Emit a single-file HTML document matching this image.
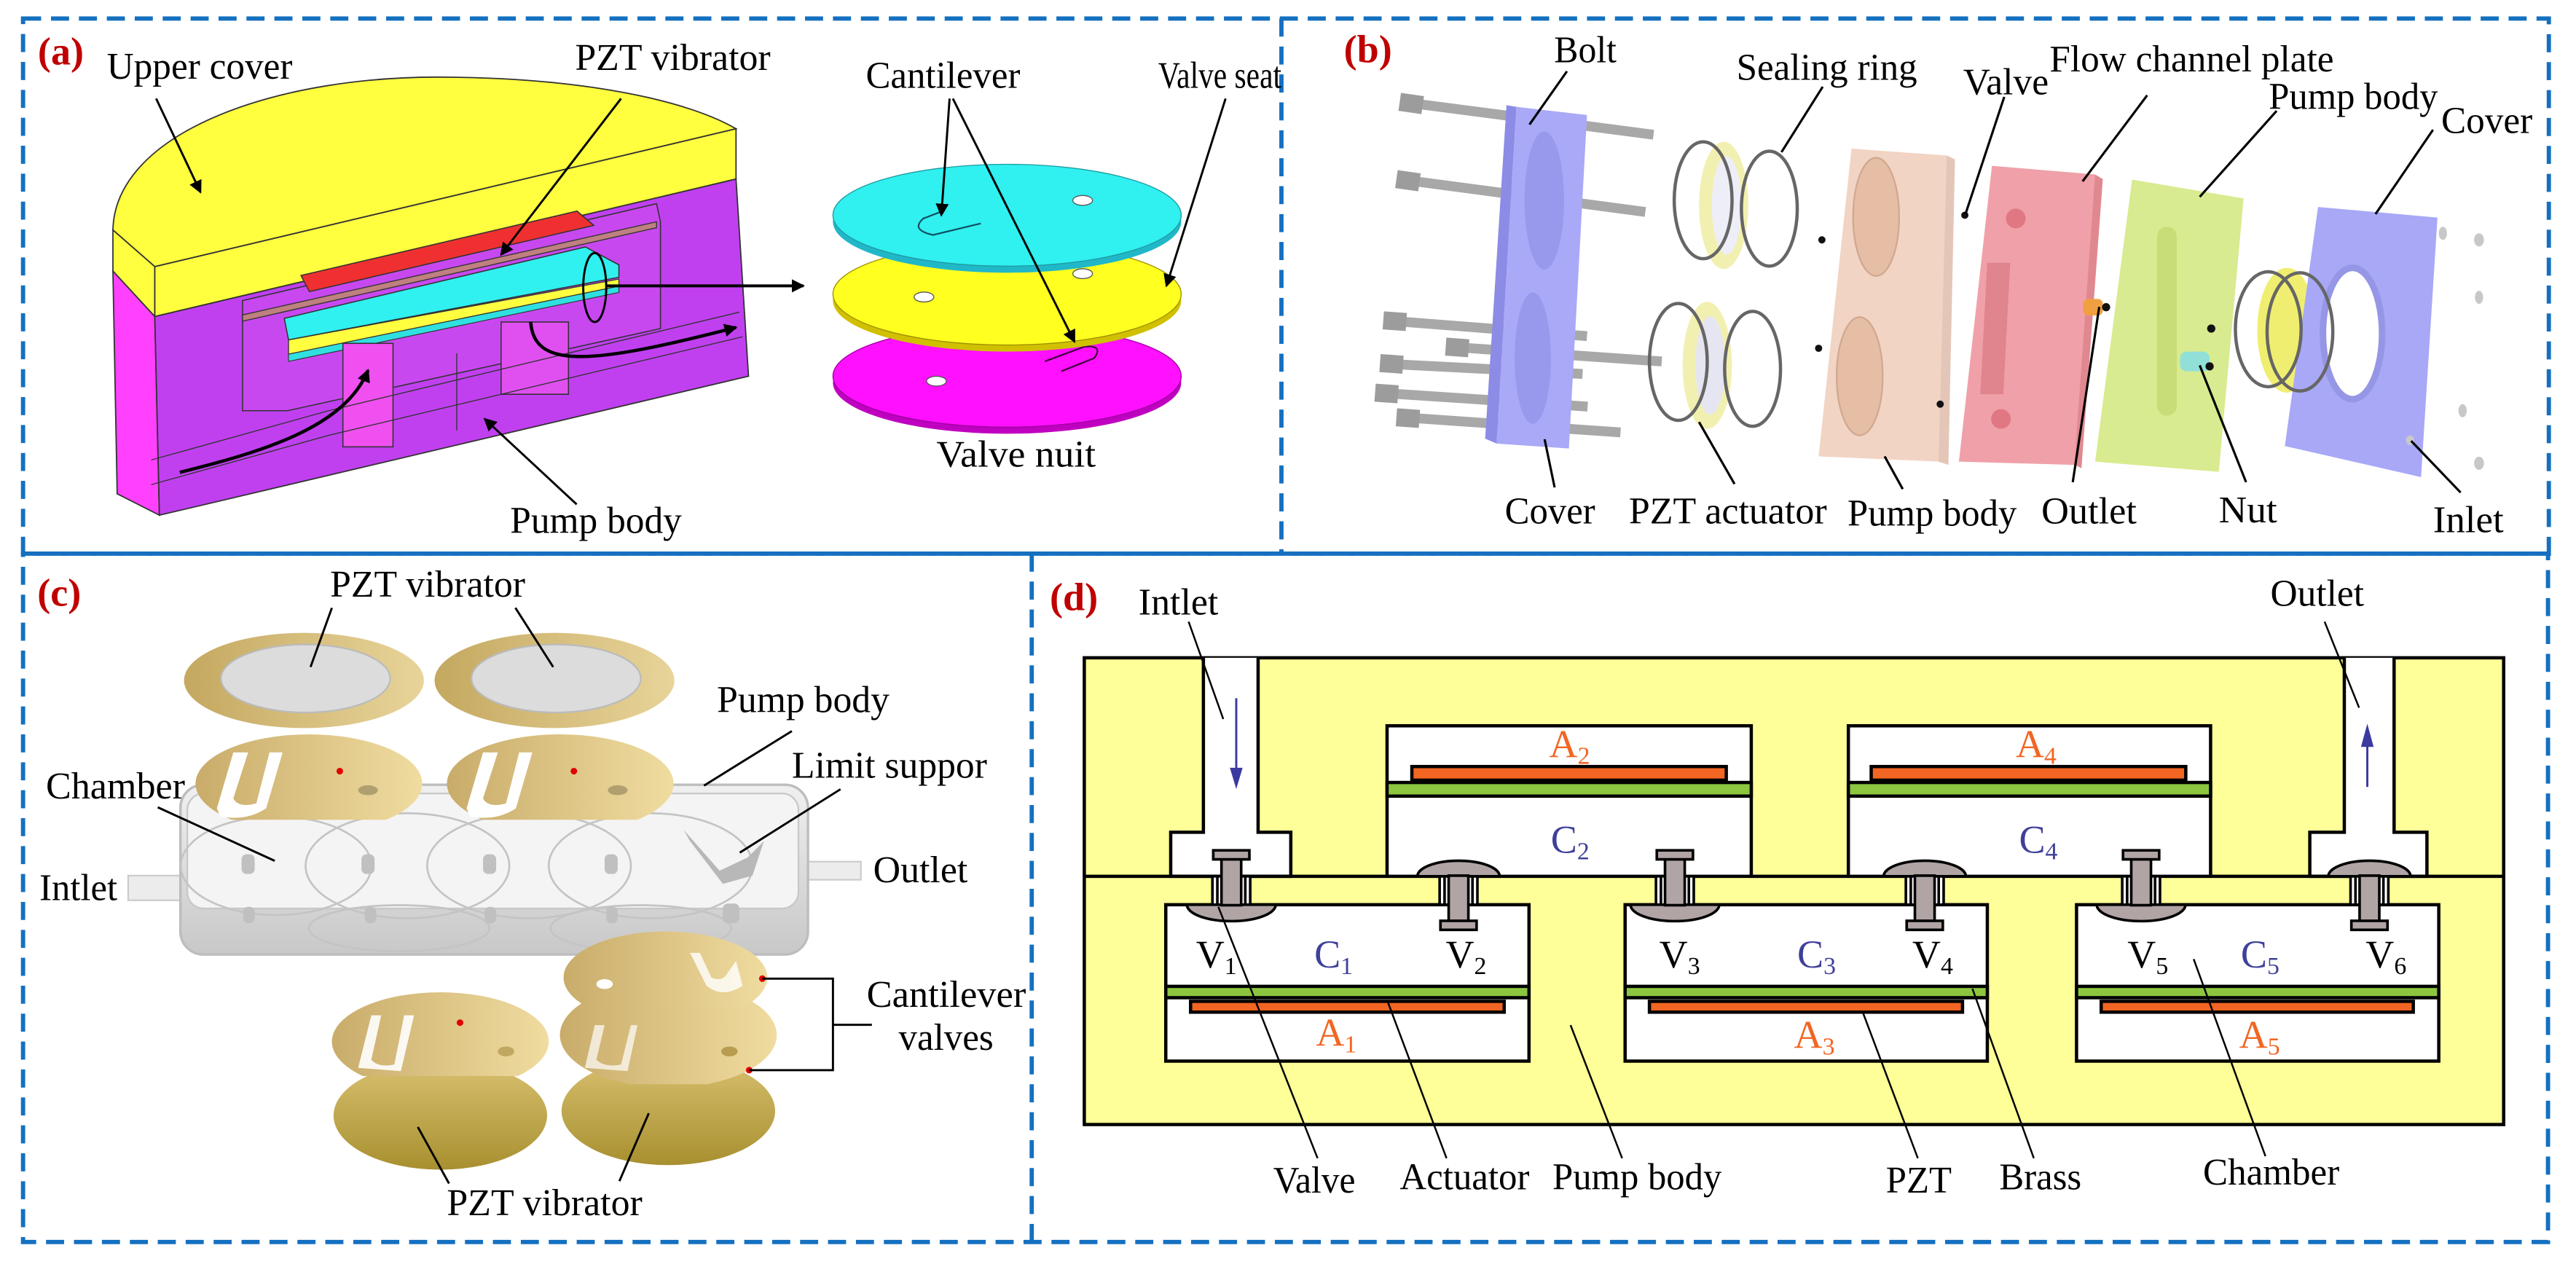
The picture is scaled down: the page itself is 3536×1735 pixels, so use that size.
<!DOCTYPE html>
<html><head><meta charset="utf-8"><style>
html,body{margin:0;padding:0;background:#fff;}
svg{display:block;}
</style></head><body>
<svg width="3536" height="1735" viewBox="0 0 1568 769.4" xmlns="http://www.w3.org/2000/svg" font-family="'Liberation Serif', 'Times New Roman', serif">
<defs>
<marker id="ah" markerWidth="8" markerHeight="8" refX="7" refY="4" orient="auto" markerUnits="userSpaceOnUse"><path d="M0,0 L8,4 L0,8 Z" fill="#000"/></marker>
<linearGradient id="gold" x1="0" x2="1"><stop offset="0" stop-color="#c9ac6a"/><stop offset="1" stop-color="#f0dca0"/></linearGradient>
<linearGradient id="gold2" x1="0" x2="1"><stop offset="0" stop-color="#c4a860"/><stop offset="1" stop-color="#e8d49a"/></linearGradient>
<linearGradient id="goldd" x1="0" y1="0" x2="0" y2="1"><stop offset="0" stop-color="#d8c070"/><stop offset="1" stop-color="#a89030"/></linearGradient>
<linearGradient id="body" x1="0" y1="0" x2="0" y2="1"><stop offset="0" stop-color="#f0f0f0"/><stop offset="1" stop-color="#c8c8c8"/></linearGradient>
<clipPath id="c1"><rect x="100" y="440" width="170" height="59"/></clipPath>
<clipPath id="c2"><rect x="260" y="440" width="170" height="59"/></clipPath>
<clipPath id="c3"><rect x="190" y="600" width="160" height="55"/></clipPath>
<clipPath id="c4"><rect x="330" y="595" width="160" height="65"/></clipPath>
<clipPath id="c5"><rect x="340" y="565" width="140" height="48"/></clipPath>
</defs>
<rect width="1568" height="769.4" fill="#fff"/>

<!-- dashed borders -->
<g fill="none" stroke="#1570c0" stroke-width="2.6" stroke-dasharray="11 6">
<rect x="14" y="11.3" width="1537.5" height="325.7"/>
<line x1="780" y1="11.3" x2="780" y2="337"/>
<rect x="14" y="337" width="1537" height="419"/>
<line x1="628" y1="337" x2="628" y2="756"/>
</g>

<!-- ================= Panel A ================= -->
<g>
<path d="M68.7,140 C70,80 170,45 275,47 C360,48 420,62 448,78.4 L94.2,162.3 Z" fill="#ffff40" stroke="#333" stroke-width="0.8"/>
<path d="M68.7,140 L94.2,162.3 L94.2,192.7 L68.7,165 Z" fill="#ffff40" stroke="#333" stroke-width="0.8"/>
<path d="M94.2,162.3 L448,78.4 L448,109 L94.2,192.7 Z" fill="#ffff40" stroke="#333" stroke-width="0.8"/>
<path d="M68.7,165 L94.2,192.7 L97,313.6 L71.3,300.6 Z" fill="#ff40ff" stroke="#333" stroke-width="0.8"/>
<path d="M94.2,192.7 L448,109 L455.6,229 L97,313.6 Z" fill="#c040f0" stroke="#333" stroke-width="0.8"/>
<path d="M147.6,183 L399.6,124 L402,135 L402,200 L175,250 L147.6,250 Z" fill="#c848f0" stroke="#333" stroke-width="0.7"/>
<path d="M147.6,191.7 L399.6,135 L399.6,138.6 L147.6,195.5 Z" fill="#c08080" stroke="#333" stroke-width="0.6"/>
<path d="M183.2,167.7 L351.2,128.5 L361.4,137.2 L188.3,177.5 Z" fill="#f03030" stroke="#333" stroke-width="0.7"/>
<path d="M173,193.8 L356.3,150.3 L376.7,161.2 L376.7,168.8 L175.6,206.9 Z" fill="#30f0f0" stroke="#333" stroke-width="0.7"/>
<path d="M175.6,206.9 L376.7,169.9 L376.7,174.2 L175.6,215.6 Z" fill="#ffff40" stroke="#333" stroke-width="0.6"/>
<path d="M175.6,215.6 L376.7,174.2 L376.7,178 L175.6,220 Z" fill="#30e0e0" stroke="#333" stroke-width="0.5"/>
<rect x="208.7" y="209" width="30.5" height="63" fill="#f050f0" stroke="#333" stroke-width="0.7"/>
<rect x="305" y="196" width="41" height="44" fill="#e050f0" stroke="#333" stroke-width="0.7"/>
<path d="M92,280 L200,250 L450,190" fill="none" stroke="#333" stroke-width="0.6"/>
<path d="M92,295 L200,265 L452,205" fill="none" stroke="#333" stroke-width="0.6"/>
<line x1="278" y1="215" x2="278" y2="262" stroke="#333" stroke-width="0.6"/>
<path d="M109.4,287.5 C160,275 210,260 224,225.4" fill="none" stroke="#000" stroke-width="2" marker-end="url(#ah)"/>
<path d="M323,196 C325,225 360,222 448,199.3" fill="none" stroke="#000" stroke-width="2" marker-end="url(#ah)"/>
<ellipse cx="362" cy="175" rx="7" ry="21" fill="none" stroke="#000" stroke-width="1.3"/>
<line x1="369" y1="174" x2="489" y2="174" stroke="#000" stroke-width="1.8" marker-end="url(#ah)"/>
<ellipse cx="613" cy="233" rx="106" ry="31" fill="#c000c0"/>
<ellipse cx="613" cy="229" rx="106" ry="31" fill="#ff10ff" stroke="#a000a0" stroke-width="0.6"/>
<ellipse cx="570" cy="232" rx="6" ry="3" fill="#fff" stroke="#555" stroke-width="0.6"/>
<path d="M636,220 L660,211 Q672,210 666,218 L646,226" fill="none" stroke="#400040" stroke-width="1"/>
<ellipse cx="613" cy="183" rx="106" ry="31" fill="#d0c000"/>
<ellipse cx="613" cy="179" rx="106" ry="31" fill="#ffff20" stroke="#a09000" stroke-width="0.6"/>
<ellipse cx="562.4" cy="180.8" rx="6" ry="3" fill="#fff" stroke="#555" stroke-width="0.6"/>
<ellipse cx="659" cy="166.6" rx="6" ry="3" fill="#fff" stroke="#555" stroke-width="0.6"/>
<ellipse cx="613" cy="135" rx="106" ry="31" fill="#20b8c8"/>
<ellipse cx="613" cy="131" rx="106" ry="31" fill="#30f0f0" stroke="#209aa0" stroke-width="0.6"/>
<ellipse cx="659" cy="122" rx="6" ry="3" fill="#fff" stroke="#555" stroke-width="0.6"/>
<path d="M597,136 L568,143 Q554,140 562,133 L575,128" fill="none" stroke="#105060" stroke-width="1"/>
<g stroke="#000" stroke-width="1.3" fill="none">
<line x1="95" y1="60" x2="122" y2="117" marker-end="url(#ah)"/>
<line x1="378" y1="60" x2="305" y2="155" marker-end="url(#ah)"/>
<line x1="578" y1="60" x2="573" y2="131" marker-end="url(#ah)"/>
<line x1="580" y1="60" x2="654" y2="208" marker-end="url(#ah)"/>
<line x1="746" y1="60" x2="710" y2="174" marker-end="url(#ah)"/>
<line x1="351" y1="307" x2="295" y2="255" marker-end="url(#ah)"/>
</g>
<g font-size="23" fill="#000">
<text x="23" y="39.2" font-size="24" font-weight="bold" fill="#c00000">(a)</text>
<text x="65" y="48" textLength="113" lengthAdjust="spacingAndGlyphs">Upper cover</text>
<text x="350" y="42.5" textLength="119" lengthAdjust="spacingAndGlyphs">PZT vibrator</text>
<text x="527" y="53.4" textLength="94" lengthAdjust="spacingAndGlyphs">Cantilever</text>
<text x="705" y="53.4" textLength="75" lengthAdjust="spacingAndGlyphs">Valve seat</text>
<text x="570" y="284" textLength="97" lengthAdjust="spacingAndGlyphs">Valve nuit</text>
<text x="310.5" y="324.5" textLength="104.5" lengthAdjust="spacingAndGlyphs">Pump body</text>
</g>
</g>

<!-- ================= Panel B ================= -->
<g>
<g stroke="#a8a8a8" stroke-linecap="butt">
<line x1="853" y1="62" x2="1006.5" y2="82" stroke-width="6"/>
<line x1="851" y1="109" x2="1001.5" y2="129" stroke-width="6"/>
<line x1="843" y1="195" x2="966" y2="204.6" stroke-width="6"/>
<line x1="881" y1="211" x2="1011.5" y2="220" stroke-width="6"/>
<line x1="841" y1="221.3" x2="963.3" y2="227.6" stroke-width="6"/>
<line x1="838.3" y1="239" x2="966.4" y2="247.5" stroke-width="6"/>
<line x1="851" y1="253.8" x2="986.4" y2="263.2" stroke-width="6"/>
<g stroke-width="11" stroke="#9c9c9c">
<line x1="852" y1="62" x2="866" y2="64"/>
<line x1="850" y1="109" x2="864" y2="111"/>
<line x1="842" y1="195" x2="856" y2="196"/>
<line x1="880" y1="211" x2="894" y2="212"/>
<line x1="840" y1="221" x2="854" y2="222"/>
<line x1="837" y1="239" x2="851" y2="240"/>
<line x1="850" y1="254" x2="864" y2="255"/>
</g></g>
<path d="M911,270 L923,65 L917,64 L904,267 Z" fill="#8c8ce6"/>
<path d="M923,65 L966,70 L955,273 L911,270 Z" fill="#a9a9f7"/>
<ellipse cx="940" cy="122" rx="12" ry="42" fill="#9898ec"/>
<ellipse cx="933" cy="218" rx="11" ry="40" fill="#9898ec"/>
<ellipse cx="1049.2" cy="125" rx="15" ry="38.7" fill="#f2f0b0"/>
<ellipse cx="1051" cy="125" rx="9" ry="30" fill="#eeeef8"/>
<ellipse cx="1036.7" cy="121.9" rx="17.6" ry="35.6" fill="none" stroke="#666" stroke-width="2"/>
<ellipse cx="1077" cy="127" rx="17" ry="35" fill="none" stroke="#666" stroke-width="2"/>
<ellipse cx="1039.2" cy="222.4" rx="15" ry="38.7" fill="#f2f0b0"/>
<ellipse cx="1041" cy="222.4" rx="9" ry="30" fill="#e6e6f2"/>
<ellipse cx="1021.6" cy="220.3" rx="17.6" ry="35.6" fill="none" stroke="#666" stroke-width="2"/>
<ellipse cx="1066.8" cy="224.5" rx="17" ry="35" fill="none" stroke="#666" stroke-width="2"/>
<path d="M1127,90.5 L1185,94.7 L1190,97 L1186,283 L1180,281 Z" fill="#e4c6b8"/>
<path d="M1127,90.5 L1185,94.7 L1180,281 L1107,277.8 Z" fill="#f2d4c4"/>
<ellipse cx="1142" cy="132" rx="14" ry="36" fill="#e6bea6" stroke="#d0a890" stroke-width="1"/>
<ellipse cx="1132" cy="229" rx="14" ry="36" fill="#e6bea6" stroke="#d0a890" stroke-width="1"/>
<g fill="#111"><circle cx="1196" cy="131" r="2.2"/><circle cx="1109" cy="146" r="2.2"/><circle cx="1107" cy="212" r="2.2"/><circle cx="1181" cy="246" r="2.2"/></g>
<path d="M1212.5,101 L1275.3,106.2 L1280,109 L1267,285 L1262.7,283 Z" fill="#e08890"/>
<path d="M1212.5,101 L1275.3,106.2 L1262.7,283 L1192.4,281 Z" fill="#f0a0a8"/>
<rect x="1218" y="160" width="14" height="80" fill="#e0848e" transform="skewX(-3)"/>
<circle cx="1227" cy="133" r="6" fill="#e07884"/><circle cx="1218" cy="255" r="6" fill="#e07884"/>
<path d="M1297.8,109.3 L1365.7,120.8 L1350.6,287.2 L1275.3,281 Z" fill="#d8eb90"/>
<rect x="1313" y="138" width="12" height="115" rx="6" fill="#c8dc78"/>
<rect x="1268" y="182" width="12" height="10" rx="3" fill="#f0a040"/>
<circle cx="1282" cy="187" r="2.5" fill="#111"/>
<rect x="1327" y="214" width="18" height="12" rx="4" fill="#90e0d8"/>
<circle cx="1346" cy="200" r="2.5" fill="#111"/><circle cx="1345" cy="223" r="2.5" fill="#111"/>
<ellipse cx="1392" cy="201" rx="18" ry="38" fill="#f0ee70"/>
<path d="M1411,126 L1483.7,132.4 L1473.7,290.4 L1390.8,271.5 Z" fill="#a8a8f7"/>
<ellipse cx="1432" cy="203" rx="18" ry="40" fill="#fff" stroke="#9696e6" stroke-width="4"/>
<ellipse cx="1380.7" cy="200.4" rx="20" ry="35" fill="none" stroke="#666" stroke-width="2"/>
<ellipse cx="1400" cy="202" rx="20" ry="36" fill="none" stroke="#666" stroke-width="2"/>
<g fill="#c8c8c8"><ellipse cx="1487" cy="142" rx="2.5" ry="4"/><ellipse cx="1509" cy="146" rx="3" ry="4"/><ellipse cx="1509" cy="181" rx="2.5" ry="4"/><ellipse cx="1499" cy="250" rx="2.5" ry="4"/><ellipse cx="1509" cy="282" rx="3" ry="4"/><ellipse cx="1467" cy="268" rx="2.5" ry="3"/></g>
<g stroke="#000" stroke-width="1.4">
<line x1="953.8" y1="43.4" x2="931" y2="75.8"/>
<line x1="1109.5" y1="52.8" x2="1084.4" y2="92.6"/>
<line x1="1220" y1="59" x2="1196.4" y2="130.3"/>
<line x1="1307" y1="58" x2="1267.7" y2="110.4"/>
<line x1="1385.8" y1="67.5" x2="1339" y2="119.8"/>
<line x1="1481" y1="79" x2="1446" y2="130.3"/>
<line x1="946.3" y1="296.7" x2="940.2" y2="267.4"/>
<line x1="1055.8" y1="294.6" x2="1034.2" y2="256.9"/>
<line x1="1158.2" y1="297.7" x2="1147.2" y2="277.8"/>
<line x1="1261.7" y1="293.5" x2="1277.8" y2="186.8"/>
<line x1="1367.2" y1="293.5" x2="1339" y2="222.4"/>
<line x1="1497.8" y1="299.8" x2="1467.7" y2="268.4"/>
</g>
<g font-size="23" fill="#000">
<text x="818" y="38" font-size="24" font-weight="bold" fill="#c00000">(b)</text>
<text x="946" y="38" textLength="38" lengthAdjust="spacingAndGlyphs">Bolt</text>
<text x="1057" y="48.6" textLength="110" lengthAdjust="spacingAndGlyphs">Sealing ring</text>
<text x="1195" y="57.4" textLength="52" lengthAdjust="spacingAndGlyphs">Valve</text>
<text x="1247.6" y="43.4" textLength="173" lengthAdjust="spacingAndGlyphs">Flow channel plate</text>
<text x="1381" y="66.4" textLength="103" lengthAdjust="spacingAndGlyphs">Pump body</text>
<text x="1486" y="81" textLength="55.5" lengthAdjust="spacingAndGlyphs">Cover</text>
<text x="916" y="318.6" textLength="55" lengthAdjust="spacingAndGlyphs">Cover</text>
<text x="991.5" y="318.6" textLength="120.5" lengthAdjust="spacingAndGlyphs">PZT actuator</text>
<text x="1124.6" y="320" textLength="103" lengthAdjust="spacingAndGlyphs">Pump body</text>
<text x="1242.6" y="318.6" textLength="58" lengthAdjust="spacingAndGlyphs">Outlet</text>
<text x="1350.6" y="318" textLength="35.5" lengthAdjust="spacingAndGlyphs">Nut</text>
<text x="1481" y="324" textLength="43" lengthAdjust="spacingAndGlyphs">Inlet</text>
</g>
</g>

<!-- ================= Panel C ================= -->
<g>
<ellipse cx="185" cy="414.2" rx="73" ry="29" fill="url(#gold2)"/>
<ellipse cx="186" cy="413" rx="51.5" ry="20.7" fill="#dcdcdc" stroke="#bbb" stroke-width="1"/>
<ellipse cx="337.5" cy="414.2" rx="73" ry="29" fill="url(#gold2)"/>
<ellipse cx="338.5" cy="413" rx="51.5" ry="20.7" fill="#dcdcdc" stroke="#bbb" stroke-width="1"/>
<rect x="78" y="533" width="40" height="15" fill="#ececec" stroke="#ccc"/>
<rect x="488" y="524.5" width="36" height="11" fill="#ececec" stroke="#ccc"/>
<rect x="109.8" y="477.7" width="382" height="103.3" rx="14" fill="url(#body)" stroke="#bdbdbd" stroke-width="1.5"/>
<rect x="114" y="483" width="372" height="70" rx="10" fill="#f4f4f4" stroke="#c8c8c8" stroke-width="1"/>
<g fill="none" stroke="#c4c4c4" stroke-width="1.2">
<ellipse cx="168" cy="527" rx="58" ry="30"/><ellipse cx="248" cy="527" rx="62" ry="32"/><ellipse cx="322" cy="527" rx="62" ry="32"/><ellipse cx="396" cy="527" rx="62" ry="32"/>
<ellipse cx="243" cy="565" rx="55" ry="14"/><ellipse cx="390" cy="565" rx="55" ry="14"/>
</g>
<g fill="#c0c0c0"><rect x="147" y="520" width="8" height="12" rx="3"/><rect x="220" y="520" width="8" height="12" rx="3"/><rect x="294" y="520" width="8" height="12" rx="3"/><rect x="368" y="520" width="8" height="12" rx="3"/>
<rect x="148" y="552" width="7" height="10" rx="3"/><rect x="222" y="552" width="7" height="10" rx="3"/><rect x="295" y="552" width="7" height="10" rx="3"/><rect x="369" y="552" width="7" height="10" rx="3"/><rect x="440" y="550" width="10" height="12" rx="3"/></g>
<path d="M416,505 L438,530 L455,522 L465,512 L458,533 L440,538 L420,512 Z" fill="#b8b8b8"/>
<!-- top valve plates -->
<ellipse cx="188" cy="477" rx="69" ry="30" fill="url(#gold)" clip-path="url(#c1)"/>
<ellipse cx="341" cy="477" rx="69" ry="30" fill="url(#gold)" clip-path="url(#c2)"/>
<path d="M132,492 L142,458 L151,458 L142,486 Q145,492 156,489 L164,458 L172,458 L162,492 Q150,500 134,497 Z" fill="#fff"/>
<path d="M284,492 L294,458 L303,458 L294,486 Q297,492 308,489 L316,458 L324,458 L314,492 Q302,500 286,497 Z" fill="#fff"/>
<ellipse cx="224" cy="481" rx="6" ry="3" fill="#b0a070"/><ellipse cx="376" cy="481" rx="6" ry="3" fill="#b0a070"/>
<!-- bottom discs -->
<ellipse cx="268" cy="679" rx="65" ry="33" fill="url(#goldd)"/>
<ellipse cx="406.8" cy="676.2" rx="65" ry="33" fill="url(#goldd)"/>
<ellipse cx="268" cy="634" rx="66" ry="30" fill="url(#gold)" clip-path="url(#c3)"/>
<ellipse cx="406.8" cy="630" rx="66" ry="32" fill="url(#gold)" clip-path="url(#c4)"/>
<ellipse cx="405" cy="595" rx="62" ry="28" fill="url(#gold)" clip-path="url(#c5)"/>
<path d="M218,650 L226,618 L232,618 L226,645 Q230,650 240,648 L246,618 L252,618 L244,652 Z" fill="#fff" opacity="0.9"/>
<path d="M356,650 L362,624 L368,624 L363,645 Q368,650 378,648 L384,624 L388,624 L382,652 Z" fill="#fff" opacity="0.7"/>
<path d="M420,580 L430,600 Q440,608 452,600 L448,585 L443,592 Q440,598 433,595 L426,580 Z" fill="#fff" opacity="0.8"/>
<ellipse cx="308" cy="640" rx="5" ry="3" fill="#c0a860"/><ellipse cx="444" cy="640" rx="5" ry="3" fill="#b89c50"/><ellipse cx="368" cy="599" rx="5" ry="3" fill="#fff"/>
<g fill="#e00000"><circle cx="206.8" cy="469.4" r="2"/><circle cx="349.3" cy="469.4" r="2"/><circle cx="280" cy="622.5" r="2"/><circle cx="464" cy="595.7" r="2"/><circle cx="456" cy="651.4" r="2"/></g>
<g fill="none" stroke="#000" stroke-width="1.3">
<polyline points="464,595.7 507,595.7 507,651.4 456,651.4"/>
<line x1="507" y1="623.8" x2="530.7" y2="623.8"/>
<line x1="202" y1="370" x2="189" y2="406"/>
<line x1="313.7" y1="370" x2="336.7" y2="406"/>
<line x1="482" y1="445" x2="428.5" y2="478.2"/>
<line x1="96" y1="491.4" x2="167.2" y2="524"/>
<line x1="511.6" y1="480.4" x2="450.3" y2="519"/>
<line x1="273.3" y1="720.4" x2="254.3" y2="686"/>
<line x1="377" y1="719" x2="394.9" y2="677.6"/>
</g>
<g font-size="23" fill="#000">
<text x="22.7" y="368.7" font-size="24" font-weight="bold" fill="#c00000">(c)</text>
<text x="200.9" y="363.2" textLength="118.8" lengthAdjust="spacingAndGlyphs">PZT vibrator</text>
<text x="436.4" y="433.5" textLength="105" lengthAdjust="spacingAndGlyphs">Pump body</text>
<text x="27.9" y="486" textLength="84.7" lengthAdjust="spacingAndGlyphs">Chamber</text>
<text x="482" y="473.5" textLength="118.8" lengthAdjust="spacingAndGlyphs">Limit suppor</text>
<text x="24" y="548" textLength="47.4" lengthAdjust="spacingAndGlyphs">Intlet</text>
<text x="531.5" y="537" textLength="57.5" lengthAdjust="spacingAndGlyphs">Outlet</text>
<text x="527.5" y="612.8" textLength="97" lengthAdjust="spacingAndGlyphs">Cantilever</text>
<text x="547" y="639" textLength="57.7" lengthAdjust="spacingAndGlyphs">valves</text>
<text x="272" y="739.7" textLength="119" lengthAdjust="spacingAndGlyphs">PZT vibrator</text>
</g>
</g>

<!-- ================= Panel D ================= -->
<g stroke="#000" stroke-width="2">
<rect x="660" y="400.4" width="864" height="284.1" fill="#ffff99"/>
<path d="M732.5,400.4 L732.5,506.6 L712.6,506.6 L712.6,533.4 L785.7,533.4 L785.7,506.6 L765.8,506.6 L765.8,400.4" fill="#fff"/>
<path d="M1427,400.4 L1427,506.6 L1406,506.6 L1406,533.4 L1477.3,533.4 L1477.3,506.6 L1457.3,506.6 L1457.3,400.4" fill="#fff"/>
<path d="M844.3,533.4 L844.3,441.8 L1066,441.8 L1066,533.4" fill="#fff"/>
<path d="M1125.1,533.4 L1125.1,441.8 L1345.6,441.8 L1345.6,533.4" fill="#fff"/>
<rect x="859.4" y="466.6" width="191.4" height="8.3" fill="#f26522"/>
<rect x="844.3" y="476.3" width="221.7" height="8.3" fill="#8cc63f"/>
<rect x="1139" y="466.6" width="191.5" height="8.3" fill="#f26522"/>
<rect x="1125.1" y="476.3" width="220.5" height="8.3" fill="#8cc63f"/>
<line x1="660" y1="533.4" x2="1524" y2="533.4"/>
<rect x="709.6" y="550.7" width="221.1" height="95.2" fill="#fff"/>
<rect x="989.2" y="550.7" width="220.5" height="95.2" fill="#fff"/>
<rect x="1264" y="550.7" width="220.5" height="95.2" fill="#fff"/>
<rect x="709.6" y="600.4" width="221.1" height="6.9" fill="#8cc63f"/>
<rect x="989.2" y="600.4" width="220.5" height="6.9" fill="#8cc63f"/>
<rect x="1264" y="600.4" width="220.5" height="6.9" fill="#8cc63f"/>
<rect x="724.7" y="609.5" width="190.9" height="6.6" fill="#f26522"/>
<rect x="1004" y="609.5" width="190.6" height="6.6" fill="#f26522"/>
<rect x="1279" y="609.5" width="190" height="6.6" fill="#f26522"/>
</g>
<g stroke="#000" stroke-width="1.6" fill="#b0a4a4">
<g id="va">
<rect x="738" y="533.4" width="23" height="17.3" fill="#fff"/>
<line x1="741" y1="533.4" x2="741" y2="550.7"/><line x1="758" y1="533.4" x2="758" y2="550.7"/>
<path d="M722.5,550.7 A27,10 0 0 0 776.5,550.7 Z"/>
<rect x="743.5" y="520" width="12" height="31"/>
<rect x="738.5" y="517.6" width="22" height="5.5"/>
</g>
<use href="#va" x="270"/>
<use href="#va" x="553.8"/>
<g id="vb">
<rect x="876.3" y="533.4" width="23" height="17.3" fill="#fff"/>
<line x1="879.3" y1="533.4" x2="879.3" y2="550.7"/><line x1="896.3" y1="533.4" x2="896.3" y2="550.7"/>
<path d="M862.8,533.4 A25,9.5 0 0 1 912.8,533.4 Z"/>
<rect x="881.8" y="533" width="12" height="30"/>
<rect x="876.8" y="560.5" width="22" height="5.5"/>
</g>
<use href="#vb" x="283.8"/>
<use href="#vb" x="554.5"/>
</g>
<g stroke="#3a3aa0" stroke-width="1.3" fill="#3a3aa0">
<line x1="752.5" y1="425" x2="752.5" y2="470"/><path d="M749.5,468 L755.5,468 L752.5,478 Z"/>
<line x1="1441" y1="479" x2="1441" y2="452"/><path d="M1438,454 L1444,454 L1441,443 Z"/>
</g>
<g stroke="#000" stroke-width="1.1">
<line x1="723.5" y1="378.4" x2="744.6" y2="437.7"/>
<line x1="1415" y1="378.4" x2="1436" y2="430.8"/>
<line x1="802" y1="705" x2="741.6" y2="552"/>
<line x1="880.5" y1="705" x2="844.3" y2="608.7"/>
<line x1="987.4" y1="705" x2="956" y2="624"/>
<line x1="1167.4" y1="705" x2="1134.2" y2="617"/>
<line x1="1238" y1="705" x2="1200.6" y2="601.8"/>
<line x1="1379" y1="703.8" x2="1335.3" y2="583.8"/>
</g>
<g font-size="24">
<text x="639" y="371.5" font-weight="bold" fill="#c00000">(d)</text>
<text x="693" y="374" font-size="23" textLength="48.6" lengthAdjust="spacingAndGlyphs">Intlet</text>
<text x="1382" y="368.7" font-size="23" textLength="57" lengthAdjust="spacingAndGlyphs">Outlet</text>
<g fill="#000">
<text x="728" y="589">V<tspan font-size="15" dy="4">1</tspan></text>
<text x="880" y="589">V<tspan font-size="15" dy="4">2</tspan></text>
<text x="1010" y="589">V<tspan font-size="15" dy="4">3</tspan></text>
<text x="1164" y="589">V<tspan font-size="15" dy="4">4</tspan></text>
<text x="1295" y="589">V<tspan font-size="15" dy="4">5</tspan></text>
<text x="1440" y="589">V<tspan font-size="15" dy="4">6</tspan></text>
</g>
<g fill="#40409a">
<text x="800" y="589">C<tspan font-size="15" dy="4">1</tspan></text>
<text x="1094" y="589">C<tspan font-size="15" dy="4">3</tspan></text>
<text x="1364" y="589">C<tspan font-size="15" dy="4">5</tspan></text>
<text x="944" y="519">C<tspan font-size="15" dy="4">2</tspan></text>
<text x="1229" y="519">C<tspan font-size="15" dy="4">4</tspan></text>
</g>
<g fill="#f26522">
<text x="943" y="461">A<tspan font-size="15" dy="4">2</tspan></text>
<text x="1227" y="461">A<tspan font-size="15" dy="4">4</tspan></text>
<text x="801" y="636.5">A<tspan font-size="15" dy="4">1</tspan></text>
<text x="1092" y="638">A<tspan font-size="15" dy="4">3</tspan></text>
<text x="1363" y="638">A<tspan font-size="15" dy="4">5</tspan></text>
</g>
<g font-size="23" fill="#000">
<text x="775" y="726" textLength="50" lengthAdjust="spacingAndGlyphs">Valve</text>
<text x="852" y="724" textLength="79" lengthAdjust="spacingAndGlyphs">Actuator</text>
<text x="945" y="724" textLength="103" lengthAdjust="spacingAndGlyphs">Pump body</text>
<text x="1148" y="726" textLength="40" lengthAdjust="spacingAndGlyphs">PZT</text>
<text x="1217" y="724" textLength="50" lengthAdjust="spacingAndGlyphs">Brass</text>
<text x="1341" y="721" textLength="83" lengthAdjust="spacingAndGlyphs">Chamber</text>
</g>
</g>
</svg>
</body></html>
